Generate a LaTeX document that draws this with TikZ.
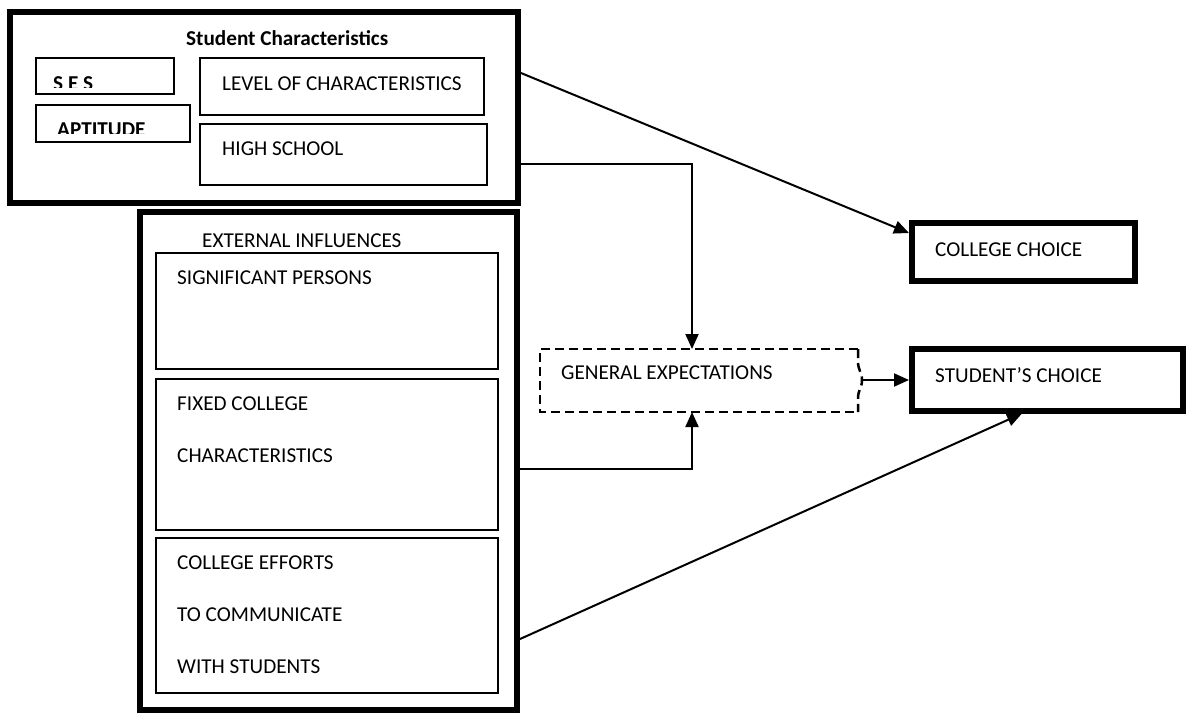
\documentclass[tikz,border=0pt]{standalone}
\usepackage{fontspec}
\setmainfont{Carlito}
\usetikzlibrary{arrows.meta}
\begin{document}
\begin{tikzpicture}[x=1pt,y=-1pt,
  thickbox/.style={draw, rectangle, line width=6pt, inner sep=0pt},
  thinbox/.style={draw, rectangle, line width=2pt, inner sep=0pt},
  lbl/.style={anchor=base west, inner sep=0pt, font=\fontsize{21.2}{25}\selectfont},
  boldlbl/.style={lbl, font=\fontsize{21.2}{25}\selectfont\bfseries},
  conn/.style={line width=2pt, -{Triangle[length=15pt,width=13pt]}},
  dashedge/.style={line width=2.5pt, dash pattern=on 9pt off 5pt}
]
\useasboundingbox (0,0) rectangle (1204,713);

% Student characteristics group
\node[thickbox, minimum width=508pt, minimum height=191pt] (stuchar) at (264,107.5) {};
\node[thinbox, minimum width=138pt, minimum height=36pt] (ses) at (105,76) {};
\node[thinbox, minimum width=154pt, minimum height=37pt] (apt) at (113,123.5) {};
\node[thinbox, minimum width=284pt, minimum height=57pt] (level) at (342,86.5) {};
\node[thinbox, minimum width=287pt, minimum height=61pt] (hs) at (343.5,154.5) {};
\node[boldlbl] (stucharlbl) at (186,45) {Student Characteristics};
\begin{scope}
  \clip (37,59) rectangle (173,87);
  \node[boldlbl] (seslbl) at (53,90) {S E S};
\end{scope}
\begin{scope}
  \clip (37,106) rectangle (189,133);
  \node[boldlbl] (aptlbl) at (57,136) {APTITUDE};
\end{scope}
\node[lbl] (levellbl) at (222,90) {LEVEL OF CHARACTERISTICS};
\node[lbl] (hslbl) at (222,155) {HIGH SCHOOL};

% External influences group
\node[thickbox, minimum width=377pt, minimum height=498pt] (extinf) at (328.5,461) {};
\node[thinbox, minimum width=342pt, minimum height=116pt] (sig) at (327,311) {};
\node[thinbox, minimum width=342pt, minimum height=151pt] (fixed) at (327,454.5) {};
\node[thinbox, minimum width=342pt, minimum height=155pt] (effort) at (327,615.5) {};
\node[lbl] (extinflbl) at (202,247) {EXTERNAL INFLUENCES};
\node[lbl] (siglbl) at (177,284) {SIGNIFICANT PERSONS};
\node[lbl] (fixedlbla) at (177,410) {FIXED COLLEGE};
\node[lbl] (fixedlblb) at (177,462) {CHARACTERISTICS};
\node[lbl] (effortlbla) at (177,569) {COLLEGE EFFORTS};
\node[lbl] (effortlblb) at (177,621) {TO COMMUNICATE};
\node[lbl] (effortlblc) at (177,673) {WITH STUDENTS};

% Outcomes
\node[thickbox, minimum width=223pt, minimum height=58pt] (cc) at (1023.5,252) {};
\node[thickbox, minimum width=271pt, minimum height=62pt] (sc) at (1047.5,379.5) {};
\node[lbl] (cclbl) at (935,256) {COLLEGE CHOICE};
\node[lbl] (sclbl) at (935,382) {STUDENT’S CHOICE};

% General expectations: dashed box with a brace-like right side
\node[rectangle, inner sep=0pt, outer sep=0pt, minimum width=318pt, minimum height=63pt] (ge) at (699,380.5) {};
\draw[dashedge] (ge.north east) -- (ge.north west) -- (ge.south west) -- (ge.south east);
\draw[dashedge] (ge.north east) -- ++(0,12)
  .. controls +(0,10) and +(0,-8) .. ++(4,19)
  coordinate (gebulge)
  .. controls +(0,8) and +(0,-10) .. ++(-4,19) -- (ge.south east);
\node[lbl] (gelbl) at (561,379) {GENERAL EXPECTATIONS};

% Connectors
\draw[conn] (stuchar.east |- 0,73) -- (cc.west |- 0,233);
\draw[conn] (stuchar.east |- 0,164) -| (ge.north west -| 692,0);
\draw[conn] (extinf.east |- 0,469) -| (ge.south west -| 692,0);
\draw[conn] (gebulge) -- (sc.west |- gebulge);
\draw[conn] (extinf.east |- 0,639) -- (sc.south -| 1022,0);
\end{tikzpicture}
\end{document}
